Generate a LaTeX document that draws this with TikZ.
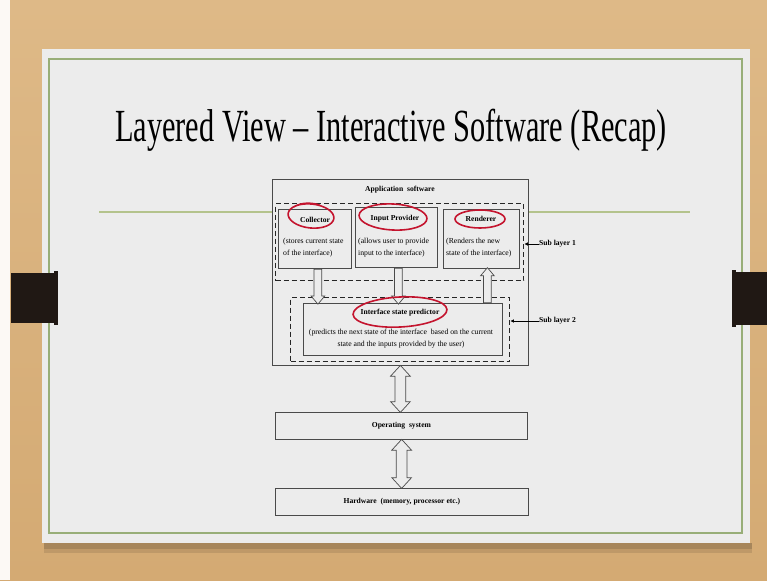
\documentclass[tikz,border=0pt]{standalone}
\usepackage{fontspec}
\setmainfont{Liberation Serif}
\usetikzlibrary{shapes.arrows,arrows.meta,calc}
\definecolor{woodtop}{HTML}{DEB987}
\definecolor{woodbot}{HTML}{D4AA73}
\definecolor{paper}{HTML}{ECECEC}
\definecolor{framegreen}{HTML}{98AE78}
\definecolor{rulegreen}{HTML}{B4C38C}
\definecolor{tabblack}{HTML}{201814}
\definecolor{ink}{HTML}{4A4A4A}
\definecolor{redink}{HTML}{C4142E}
\begin{document}
\begin{tikzpicture}[x=1pt,y=-1pt,
  box/.style={draw=ink, line width=0.8pt, fill=paper, inner sep=0pt, anchor=north west},
  dashbox/.style={draw=black!85, line width=1.3pt, dash pattern=on 5pt off 3pt, inner sep=0pt, anchor=north west},
  ttl/.style={font=\fontsize{7.6}{9}\selectfont\bfseries, inner sep=0pt},
  desc/.style={font=\fontsize{7.7}{12}\selectfont, inner sep=0pt},
  sidelabel/.style={font=\fontsize{7.6}{9}\selectfont\bfseries, inner sep=0pt, anchor=west},
  flowarrow/.style={single arrow, draw=ink, fill=paper, line width=0.7pt,
    inner xsep=0pt, inner ysep=3.5pt, single arrow head extend=3pt,
    single arrow head indent=0pt, single arrow tip angle=80, anchor=tail},
  botharrow/.style={double arrow, draw=ink, fill=paper, line width=0.7pt,
    inner xsep=0pt, inner ysep=5pt, double arrow head extend=4.5pt,
    double arrow head indent=0pt, double arrow tip angle=85, rotate=90},
  ring/.style={draw=redink, line width=1.6pt},
]
\useasboundingbox (0,0) rectangle (767,580);

% wooden desk and left margin strip
\shade[top color=woodtop, bottom color=woodbot] (0,0) rectangle (767,580);
\fill[white!92!woodtop] (0,0) rectangle (10,580);

% slide sheet with its shadow
\fill[black, opacity=0.10] (44,543) rectangle (752,553);
\fill[black, opacity=0.12] (44,543) rectangle (752,549);
\fill[paper] (42,49) rectangle (750,543);
\draw[framegreen, line width=1.4pt] (49,59) rectangle (742,533);

% binder tabs
\fill[tabblack] (11,273) rectangle (55,323);
\fill[tabblack] (54,271) rectangle (58,325);
\fill[tabblack] (735,272) rectangle (767,325);
\fill[tabblack] (732,270) rectangle (736,327);

% title and rule
\node (title) at (391,130) {\scalebox{0.66}[1]{\fontsize{46}{46}\selectfont Layered View -- Interactive Software (Recap)}};
\draw[rulegreen, line width=2pt] (99,212) -- (690,212);

% application software layer
\node[box, minimum width=256, minimum height=186] (app) at (272,179) {};
\node[ttl] (applabel) at (400,190) {Application\ \ software};

% sub layer 1
\node[dashbox, minimum width=248, minimum height=77] (sl1) at (275,203) {};
\node[box, minimum width=73, minimum height=59] (col) at (278,209) {};
\node[box, minimum width=82, minimum height=60] (inp) at (355,207) {};
\node[box, minimum width=76, minimum height=59] (ren) at (443,209) {};
\node[ttl] (coltitle) at (315,220) {Collector};
\node[ttl] (inptitle) at (395,219) {Input Provider};
\node[ttl] (rentitle) at (481,219) {Renderer};
\node[desc, anchor=west, align=left] (coldesc) at (283,248) {(stores current state\\of the interface)};
\node[desc, anchor=west, align=left] (inpdesc) at (358,248) {(allows user to provide\\input to the interface)};
\node[desc, anchor=west, align=left] (rendesc) at (446,248) {(Renders the new\\state of the interface)};

% sub layer 2
\node[dashbox, minimum width=219, minimum height=64] (sl2) at (290,297) {};
\node[box, minimum width=199, minimum height=52] (isp) at (303,303) {};
\node[ttl] (isptitle) at (400,313) {Interface state predictor};
\node[desc, align=center] (ispdesc) at (401,339) {(predicts the next state of the interface\ \ based on the current\\state and the inputs provided by the user)};

% side labels
\node[sidelabel] (sub1) at (539,244) {Sub layer 1};
\node[sidelabel] (sub2) at (539,321) {Sub layer 2};
\draw[black, line width=0.6pt, -{Latex[length=3.5pt,width=3.5pt]}] (sub1.west) -- (sub1.west -| sl1.east);
\draw[black, line width=0.6pt, -{Latex[length=3.5pt,width=3.5pt]}] (sub2.west) -- (sub2.west -| sl2.east);

% lower layers
\node[box, minimum width=252, minimum height=27] (os) at (275,412) {};
\node[ttl] (oslabel) at (os.center) {Operating\ \ system};
\node[box, minimum width=253, minimum height=27] (hw) at (275,488) {};
\node[ttl] (hwlabel) at (hw.center) {Hardware\ \ (memory,\ processor etc.)};

% hollow arrows between the boxes
\coordinate (colfoot) at ($(col.south)+(3,0)$);
\coordinate (inpfoot) at ($(inp.south)+(2,0)$);
\coordinate (renfoot) at ($(ren.south)+(6,0)$);
\node[flowarrow, rotate=-90, minimum height=35] (a1) at (colfoot) {};
\node[flowarrow, rotate=-90, minimum height=36] (a2) at (inpfoot) {};
\node[flowarrow, rotate=90, minimum height=35] (a3) at (renfoot |- isp.north) {};
\path (app.south) -- (app.south |- os.north) node[midway, botharrow, minimum height=47] (a4) {};
\path (os.south) -- (hw.north) node[midway, botharrow, minimum height=49] (a5) {};

% hand-drawn red rings around the key components
\draw[ring, rotate around={-6:(311,216)}] (311,216) ellipse [x radius=23, y radius=12];
\draw[ring, line width=1.1pt] (294,207) .. controls (300,202) and (312,202) .. (320,205);
\draw[ring, rotate around={-3:(393,217)}] (393,217) ellipse [x radius=34, y radius=13];
\draw[ring] (480,219) ellipse [x radius=25, y radius=9];
\draw[ring, rotate around={3:(400,312)}] (400,312) ellipse [x radius=47, y radius=15];
\end{tikzpicture}
\end{document}
